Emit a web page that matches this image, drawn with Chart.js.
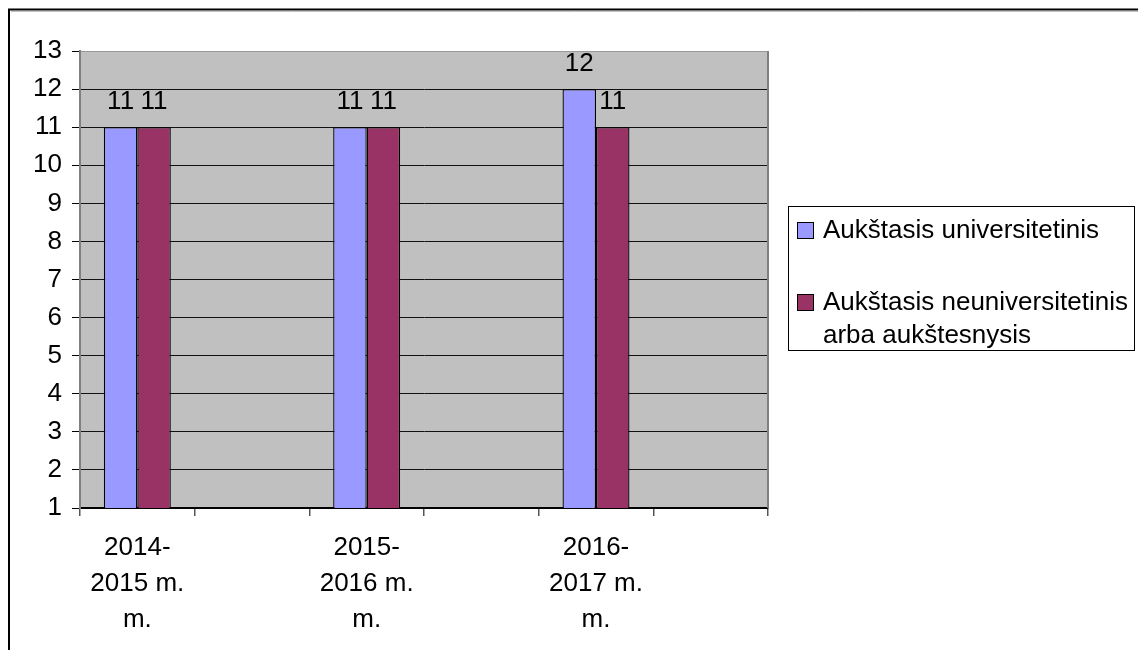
<!DOCTYPE html>
<html>
<head>
<meta charset="utf-8">
<script src="https://cdn.jsdelivr.net/npm/chart.js@4"></script>
<style>
html,body{margin:0;padding:0;background:#fff;}
#wrap{position:relative;width:1138px;height:650px;}
</style>
</head>
<body>
<div id="wrap"><canvas id="c" width="1138" height="650"></canvas></div>
<script>
const categories = [["2014-","2015 m.","m."], "", ["2015-","2016 m.","m."], "", ["2016-","2017 m.","m."], ""];
const seriesNames = ["Aukštasis universitetinis", "Aukštasis neuniversitetinis arba aukštesnysis"];
const universitetinis = [11, null, 11, null, 12, null];
const neuniversitetinis = [11, null, 11, null, 11, null];
const legendLines = [["Aukštasis universitetinis"], ["Aukštasis neuniversitetinis", "arba aukštesnysis"]];

const FONT = "'Liberation Sans', Arial, sans-serif";

const framePlugin = {
  id: 'frame',
  beforeDraw(chart) {
    const ctx = chart.ctx, a = chart.chartArea;
    ctx.save();
    ctx.fillStyle = '#fff';
    ctx.fillRect(0, 0, chart.width, chart.height);
    ctx.strokeStyle = '#000';
    ctx.lineWidth = 2;
    ctx.beginPath();
    ctx.moveTo(9, 650); ctx.lineTo(9, 9.5); ctx.lineTo(1138, 9.5);
    ctx.stroke();
    ctx.strokeStyle = '#c0c0c0';
    ctx.lineWidth = 1;
    ctx.beginPath();
    ctx.moveTo(11, 11.5); ctx.lineTo(1138, 11.5);
    ctx.stroke();
    ctx.fillStyle = '#c0c0c0';
    ctx.fillRect(a.left, a.top, a.right - a.left, a.bottom - a.top);
    ctx.restore();
  },
  afterDatasetsDraw(chart) {
    const ctx = chart.ctx, a = chart.chartArea;
    ctx.save();
    ctx.strokeStyle = '#808080';
    ctx.lineWidth = 2;
    ctx.beginPath();
    ctx.moveTo(a.right, a.top); ctx.lineTo(a.right, a.bottom);
    ctx.stroke();
    ctx.fillStyle = '#000';
    ctx.font = '26px ' + FONT;
    ctx.textAlign = 'center';
    ctx.textBaseline = 'alphabetic';
    chart.data.datasets.forEach((ds, i) => {
      const meta = chart.getDatasetMeta(i);
      meta.data.forEach((el, j) => {
        const v = ds.data[j];
        if (v === null || v === undefined) return;
        ctx.fillText(String(v), el.x, el.y - 18);
      });
    });
    const lx = 788, ly = 206, lw = 346, lh = 144;
    ctx.fillStyle = '#fff';
    ctx.fillRect(lx, ly, lw, lh);
    ctx.strokeStyle = '#000';
    ctx.lineWidth = 1;
    ctx.strokeRect(lx + 0.5, ly + 0.5, lw, lh);
    ctx.textAlign = 'left';
    ctx.textBaseline = 'middle';
    const itemY = [230, 302];
    chart.data.datasets.forEach((ds, i) => {
      const y = itemY[i];
      ctx.fillStyle = ds.backgroundColor;
      ctx.fillRect(797, y - 8, 16, 16);
      ctx.strokeStyle = '#000';
      ctx.strokeRect(797.5, y - 7.5, 16, 16);
      ctx.fillStyle = '#000';
      legendLines[i].forEach((t, k) => {
        ctx.fillText(t, 823, y + k * 33 + 1);
      });
    });
    ctx.restore();
  }
};

new Chart(document.getElementById('c'), {
  type: 'bar',
  data: {
    labels: categories,
    datasets: [
      { label: seriesNames[0], data: universitetinis, backgroundColor: '#9999ff', borderColor: '#000', borderWidth: 1.3, borderSkipped: false },
      { label: seriesNames[1], data: neuniversitetinis, backgroundColor: '#993366', borderColor: '#000', borderWidth: 1.3, borderSkipped: false }
    ]
  },
  options: {
    responsive: false,
    animation: false,
    devicePixelRatio: 1,
    layout: { padding: { left: 0, top: 51, right: 370, bottom: 0 } },
    datasets: { bar: { barPercentage: 1.0, categoryPercentage: 0.584, skipNull: false } },
    plugins: { legend: { display: false }, tooltip: { enabled: false } },
    scales: {
      x: {
        offset: true,
        grid: { display: true, drawOnChartArea: false, drawTicks: true, tickLength: 8, color: '#555', offset: true, lineWidth: 1.5 },
        border: { display: true, color: '#000', width: 2 },
        ticks: { font: { size: 26, family: FONT, lineHeight: 1.38 }, color: '#000', maxRotation: 0, minRotation: 0, autoSkip: false, padding: 14 },
        afterFit(s) { s.height = 142; }
      },
      y: {
        min: 1, max: 13,
        grid: {
          color: (c) => (c.tick && c.tick.value === 13) ? '#999' : '#111',
          tickColor: '#000',
          lineWidth: 1,
          tickLength: 8
        },
        border: { display: true, color: '#808080', width: 2 },
        ticks: { stepSize: 1, font: { size: 26, family: FONT }, color: '#000', padding: 10 },
        afterFit(s) { s.width = 80; }
      }
    }
  },
  plugins: [framePlugin]
});
</script>
</body>
</html>
